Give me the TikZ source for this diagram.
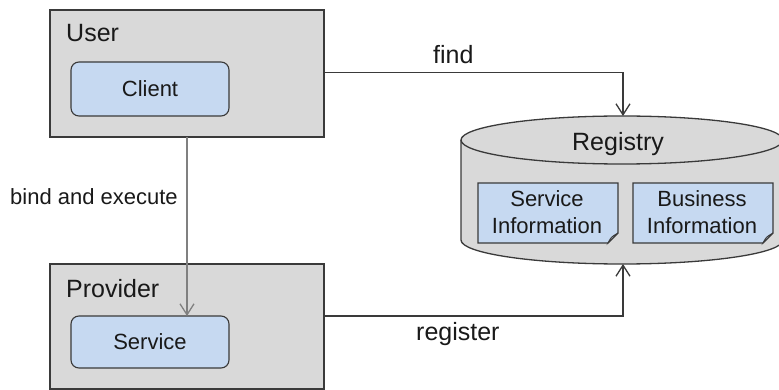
\documentclass[tikz,border=0pt]{standalone}
\usepackage{fontspec}
\setmainfont{Liberation Sans}
\usetikzlibrary{arrows.meta}
\definecolor{boxgray}{HTML}{D9D9D9}
\definecolor{boxblue}{HTML}{C6D9F1}
\definecolor{edge}{HTML}{3A3A3A}
\definecolor{bindgray}{HTML}{808080}
\tikzset{
  outer/.style={draw=edge, fill=boxgray, line width=1.3pt},
  inner/.style={draw=edge, fill=boxblue, line width=1.1pt, rounded corners=8pt},
  doc/.style={draw=edge, fill=boxblue, line width=1.1pt},
  big/.style={font=\fontsize{25}{29}\selectfont, text=black!90},
  small/.style={font=\fontsize{22}{27}\selectfont, text=black!90},
  flow/.style={draw=edge, line width=1.3pt, -{Straight Barb[length=11pt,width=14pt,line width=1.3pt]}},
  bindflow/.style={draw=bindgray, line width=1.3pt, -{Straight Barb[length=11pt,width=14pt,line width=1.3pt]}},
}
\begin{document}
\begin{tikzpicture}[x=1pt, y=-1pt]
\useasboundingbox (0,0) rectangle (779,390);

% User with its client
\path[outer] (50,10) rectangle (324,137);
\coordinate (userR) at (324,72.5);
\coordinate (userB) at (187,137);
\node[big, anchor=base west, inner sep=0pt] (userlbl) at (66,42) {User};
\path[inner] (71,62) rectangle (229,116);
\node[small] (client) at (150,89) {Client};

% Provider with its service
\path[outer] (50,264) rectangle (324,389);
\coordinate (provR) at (324,316);
\node[big, anchor=base west, inner sep=0pt] (provlbl) at (66,297) {Provider};
\path[inner] (71,316) rectangle (229,368);
\coordinate (servT) at (187,316);
\node[small] (service) at (150,342) {Service};

% Registry cylinder (y grows downwards, so angle 90 points down)
\path[outer] (461,140) -- (461,240) arc[start angle=180, end angle=0, x radius=161, y radius=24]
  -- (783,140) arc[start angle=0, end angle=-180, x radius=161, y radius=24] -- cycle;
\draw[draw=edge, line width=1.3pt] (461,140) arc[start angle=180, end angle=0, x radius=161, y radius=24];
\coordinate (regT) at (623,116);
\coordinate (regB) at (623,264);
\node[big] (registry) at (618,144) {Registry};

% Information documents with folded corners
\foreach \xa/\xb/\nm/\first in {478/618/sinfo/Service, 633/773/binfo/Business}{
  \path[doc] (\xa,183) -- (\xb,183) -- (\xb,233) -- (\xb-10,243) -- (\xa,243) -- cycle;
  \path[doc, fill=boxblue!70!gray, line width=0.8pt] (\xb,233) -- (\xb-10,243) .. controls (\xb-7,237) .. (\xb,233);
  \node[small, align=center, inner sep=0pt] (\nm) at ({(\xa+\xb)/2-1},212) {\first\\Information};
}

% Connectors
\draw[flow] (userR) -| (regT);
\node[big, anchor=base west, inner sep=0pt] (findlbl) at (433,64) {find};
\draw[flow] (provR) -| (regB);
\node[big, anchor=base west, inner sep=0pt] (reglbl) at (416,340) {register};
\draw[bindflow] (userB) -- (servT);
\node[small, anchor=base west, inner sep=0pt] (bindlbl) at (10,205) {bind and execute};
\end{tikzpicture}
\end{document}
